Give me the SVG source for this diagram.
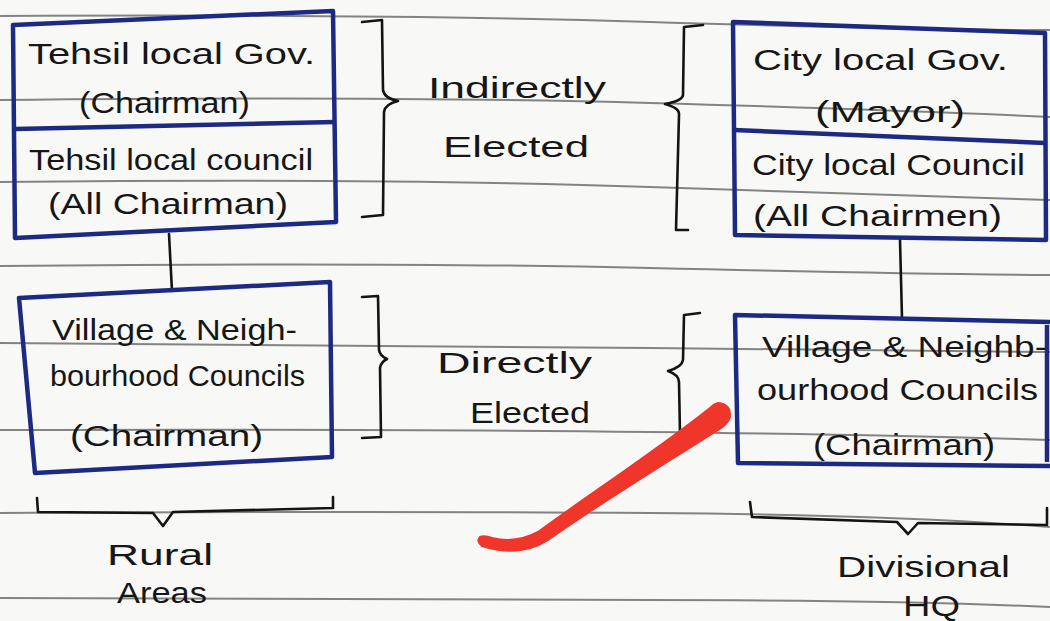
<svg xmlns="http://www.w3.org/2000/svg" width="1050" height="621" viewBox="0 0 1050 621">
<style>
  .paper { fill: #f8f8f6; }
  .rule { fill: none; stroke: #5c5c5c; stroke-width: 2; stroke-opacity: 0.75; }
  .box { fill: none; stroke: #1c2a82; stroke-width: 4.5; stroke-linejoin: round; }
  .ink { fill: none; stroke: #141414; stroke-width: 2.6; stroke-linejoin: round; stroke-linecap: round; }
  .txt { font-family: "Liberation Sans", "DejaVu Sans", sans-serif; font-size: 30px; fill: #161616; }
  .red { fill: #f0352b; stroke: #f0352b; stroke-width: 2; stroke-linejoin: round; }
</style>
<rect class="paper" x="0" y="0" width="1050" height="621"/>

<g id="ruled-lines">
  <path class="rule" d="M0,16 Q400,14 650,22 T1050,30"/>
  <path class="rule" d="M0,100 Q400,96 650,103 T1050,117"/>
  <path class="rule" d="M0,182 Q400,178 650,187 T1050,200"/>
  <path class="rule" d="M0,266 Q400,262 650,268 T1050,275"/>
  <path class="rule" d="M0,343 Q400,345 650,348 T1050,352"/>
  <path class="rule" d="M0,430 Q400,429 650,432 T1050,440"/>
  <path class="rule" d="M0,513 Q400,511 650,513 T1050,527"/>
  <path class="rule" d="M0,598 Q400,600 650,600 T1050,607"/>
</g>

<g id="connectors">
  <path class="ink" d="M169,234 L172,291"/>
  <path class="ink" d="M900,240 L902,318"/>
</g>

<g id="tehsil-local-gov">
  <path class="box" d="M13,25 L333,11 L336,222 L15,238 Z"/>
  <path class="box" d="M15,129 L335,122"/>
  <text class="txt" x="28" y="64" textLength="287" lengthAdjust="spacingAndGlyphs">Tehsil local Gov.</text>
  <text class="txt" x="79" y="113" textLength="171" lengthAdjust="spacingAndGlyphs">(Chairman)</text>
  <text class="txt" x="29" y="170" textLength="284" lengthAdjust="spacingAndGlyphs">Tehsil local council</text>
  <text class="txt" x="48" y="214" textLength="240" lengthAdjust="spacingAndGlyphs">(All Chairman)</text>
</g>

<g id="city-local-gov">
  <path class="box" d="M733,22 L1045,33 L1046,240 L735,235 Z"/>
  <path class="box" d="M734,130 L1045,143"/>
  <text class="txt" x="753" y="70" textLength="255" lengthAdjust="spacingAndGlyphs">City local Gov.</text>
  <text class="txt" x="815" y="122" textLength="150" lengthAdjust="spacingAndGlyphs">(Mayor)</text>
  <text class="txt" x="752" y="175" textLength="273" lengthAdjust="spacingAndGlyphs">City local Council</text>
  <text class="txt" x="753" y="226" textLength="249" lengthAdjust="spacingAndGlyphs">(All Chairmen)</text>
</g>

<g id="village-rural">
  <path class="box" d="M19,298 L330,282 L332,457 L35,473 Z"/>
  <text class="txt" x="52" y="340" textLength="245" lengthAdjust="spacingAndGlyphs">Village &amp; Neigh-</text>
  <text class="txt" x="50" y="386" textLength="255" lengthAdjust="spacingAndGlyphs">bourhood Councils</text>
  <text class="txt" x="70" y="446" textLength="193" lengthAdjust="spacingAndGlyphs">(Chairman)</text>
</g>

<g id="village-hq">
  <path class="box" d="M1050,322 L735,315 L738,463 L1050,466"/>
  <path class="box" d="M1047,325 L1047,462"/>
  <text class="txt" x="762" y="357" textLength="285" lengthAdjust="spacingAndGlyphs">Village &amp; Neighb-</text>
  <text class="txt" x="757" y="400" textLength="281" lengthAdjust="spacingAndGlyphs">ourhood Councils</text>
  <text class="txt" x="813" y="455" textLength="182" lengthAdjust="spacingAndGlyphs">(Chairman)</text>
</g>

<g id="indirectly-elected">
  <path class="ink" d="M362,22 L382,20 L383,90 Q384,98 398,101 Q385,104 384,112 L383,215 L362,217"/>
  <path class="ink" d="M703,25 L684,27 L683,95 Q682,101 665,104 Q680,108 679,115 L676,230 L688,230"/>
  <text class="txt" x="428" y="98" textLength="178" lengthAdjust="spacingAndGlyphs">Indirectly</text>
  <text class="txt" x="443" y="157" textLength="146" lengthAdjust="spacingAndGlyphs">Elected</text>
</g>

<g id="directly-elected">
  <path class="ink" d="M362,297 L378,296 L379,350 Q380,356 387,359 Q381,362 380,368 L381,437 L362,438"/>
  <path class="ink" d="M700,313 L684,315 L683,360 Q682,367 668,371 Q679,375 679,382 L680,434"/>
  <text class="txt" x="437" y="373" textLength="155" lengthAdjust="spacingAndGlyphs">Directly</text>
  <text class="txt" x="470" y="423" textLength="120" lengthAdjust="spacingAndGlyphs">Elected</text>
</g>

<g id="rural-areas">
  <path class="ink" d="M37,498 L38,512 L153,513 L163,526 L173,512 L333,508 L333,497"/>
  <text class="txt" x="107" y="565" textLength="106" lengthAdjust="spacingAndGlyphs">Rural</text>
  <text class="txt" x="117" y="603" textLength="90" lengthAdjust="spacingAndGlyphs">Areas</text>
</g>

<g id="divisional-hq">
  <path class="ink" d="M750,502 L752,517 L897,522 L908,534 L918,523 L1047,525 L1047,508"/>
  <text class="txt" x="837" y="577" textLength="173" lengthAdjust="spacingAndGlyphs">Divisional</text>
  <text class="txt" x="903" y="616" textLength="57" lengthAdjust="spacingAndGlyphs">HQ</text>
</g>

<g id="red-mark">
  <path class="red" d="M718,403 Q731,404 730,417 Q728,424 718,430 C670,460 600,503 548,540 Q520,558 482,546 Q476,541 480,537 Q484,535 492,538 Q516,544 538,532 C590,494 660,448 710,408 Q714,404 718,403 Z"/>
</g>
</svg>
